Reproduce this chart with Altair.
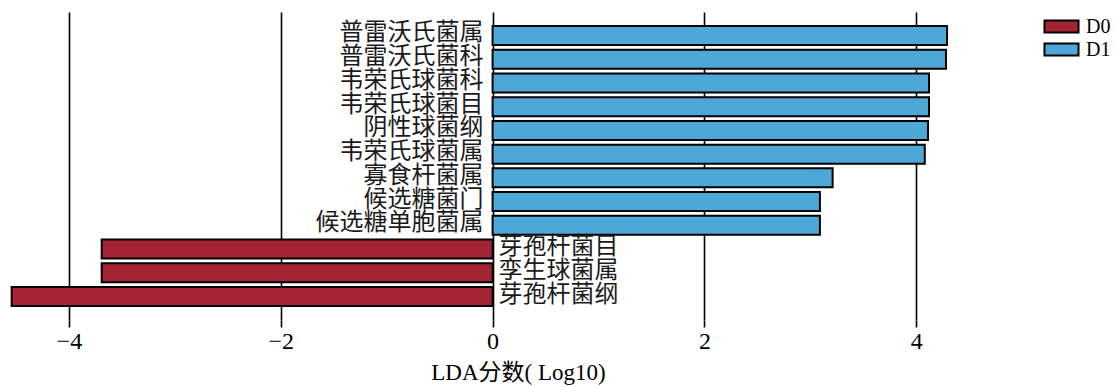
import altair as alt
import pandas as pd

categories = ['普雷沃氏菌属', '普雷沃氏菌科', '韦荣氏球菌科', '韦荣氏球菌目', '阴性球菌纲',
              '韦荣氏球菌属', '寡食杆菌属', '候选糖菌门', '候选糖单胞菌属',
              '芽孢杆菌目', '孪生球菌属', '芽孢杆菌纲']
lda = [4.29, 4.28, 4.12, 4.12, 4.11, 4.08, 3.21, 3.09, 3.09, -3.69, -3.69, -4.54]
groups = ['D1', 'D1', 'D1', 'D1', 'D1', 'D1', 'D1', 'D1', 'D1', 'D0', 'D0', 'D0']
group_names = ['D0', 'D1']
group_colors = ['#A52535', '#4DA8D8']
tick_values = [-4, -2, 0, 2, 4]

df = pd.DataFrame({'cat': categories, 'lda': lda, 'grp': groups})

x_scale = alt.Scale(domain=[-4.65, 4.79], nice=False, zero=False)
y_scale = alt.Scale(domain=categories, paddingInner=0.2, paddingOuter=0.59)

base = alt.Chart(df)

bars = base.mark_bar(stroke='black', strokeWidth=2).encode(
    x=alt.X('lda:Q', scale=x_scale,
            axis=alt.Axis(values=tick_values, format='d', title='LDA分数( Log10)', grid=True,
                          gridColor='black', gridWidth=1.6, gridOpacity=1,
                          domain=False, ticks=True, tickSize=7, tickColor='black', tickWidth=1.6,
                          labelFont='Liberation Serif', labelFontSize=24, labelColor='black',
                          labelPadding=2, titleFont='Liberation Serif, Noto Sans CJK SC',
                          titleFontSize=23, titleFontWeight='normal', titleColor='black',
                          titlePadding=8, titleX=518)),
    x2=alt.datum(0),
    y=alt.Y('cat:N', scale=y_scale, axis=None),
    color=alt.Color('grp:N', scale=alt.Scale(domain=group_names, range=group_colors),
                    legend=alt.Legend(title=None, orient='none', legendX=1049, legendY=2,
                                      symbolType='M-1.48,-0.52L1.48,-0.52L1.48,0.52L-1.48,0.52Z',
                                      symbolSize=529, symbolStrokeColor='black',
                                      symbolStrokeWidth=2, symbolOpacity=1,
                                      labelFont='Liberation Serif', labelFontSize=20,
                                      labelColor='black', rowPadding=0, padding=0,
                                      labelOffset=12)),
)

pos_text = base.transform_filter('datum.lda > 0').transform_calculate(zero='0').mark_text(
    align='right', baseline='middle', dx=-9, dy=-2, fontSize=24,
    font='Noto Sans CJK SC', color='#1a1a1a'
).encode(
    x=alt.X('zero:Q', scale=x_scale),
    y=alt.Y('cat:N', scale=y_scale),
    text='cat:N',
)

neg_text = base.transform_filter('datum.lda < 0').transform_calculate(zero='0').mark_text(
    align='left', baseline='middle', dx=6, dy=-2, fontSize=24,
    font='Noto Sans CJK SC', color='#1a1a1a'
).encode(
    x=alt.X('zero:Q', scale=x_scale),
    y=alt.Y('cat:N', scale=y_scale),
    text='cat:N',
)

chart = alt.layer(bars, pos_text, neg_text).properties(
    width=1000, height=308,
    padding={'left': 0, 'top': 12, 'right': 115, 'bottom': 67},
    autosize=alt.AutoSizeParams(type='none'),
).configure(background='white').configure_view(stroke=None)

chart.save('out.html', embed_options={'renderer': 'svg', 'actions': False})
